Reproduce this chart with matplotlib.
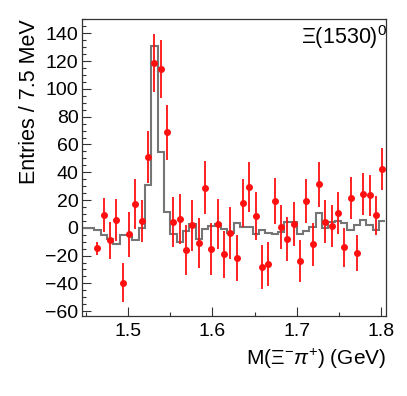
import numpy as np
import matplotlib
matplotlib.use('Agg')
import matplotlib.pyplot as plt
from matplotlib.ticker import MultipleLocator

plt.rcParams['font.family'] = ['Liberation Sans', 'DejaVu Sans']
plt.rcParams['mathtext.fontset'] = 'custom'
plt.rcParams['mathtext.rm'] = 'Liberation Sans'
plt.rcParams['mathtext.it'] = 'Liberation Sans:italic'
plt.rcParams['mathtext.bf'] = 'Liberation Sans:bold'

# binning: 48 bins of 7.5 MeV
BIN_LO = 1.445
BIN_W = 0.0075
N_BINS = 48

# MC shape (grey histogram), one value per bin
mc = [0, 0, -1.7, -5.5, -8.4, -11.5, -5, -5, -9, 0,
      30.7, 130.8, 54.3, 11.5, -4.3, -10.3, -2, 2.4, -8.4, -1,
      1.5, 2.4, -1, -4, 3.2, 0.3, 0.3, -4.8, -1.7, -3.6,
      -4.8, -3, 4.3, 4.3, -4.8, -2, 0.3, 10.5, -0.5, 4.3,
      5, 3.6, -1.7, 1.9, 5.5, 1.9, -1.7, 5]

# data points, first filled bin is bin 2
first_bin = 2
data = [-14.8, 9.1, -8.9, 5.5, -39.6, -4.8, 17.3, 4.8, 51, 118.8,
        114.3, 68.7, 4.3, 6.5, -16.3, 1.7, -11.2, 28.8, -15.1, 2.7,
        -19.2, -3.8, -21.6, 17.8, 29.5, 8.6, -28.3, -26.1, 19.4, 0.5,
        -7.9, 2.9, -23.8, 19.2, -12, 31.2, 4.3, 1.4, 10.8, -14.1,
        21.6, -18, 24.5, 23.3, 8.9, 42.5]
err = [4.5, 12, 13.4, 15, 14, 16, 18, 15, 19, 21,
       21, 20, 18, 18, 18, 18.6, 18, 19, 18.6, 18,
       17, 19, 16.5, 17.5, 17.8, 17.4, 16, 16, 16.8, 16,
       16, 16, 15, 16, 15.6, 16, 15.4, 15, 15, 14,
       15, 13, 15, 14.8, 14.3, 15]

edges = BIN_LO + BIN_W * np.arange(N_BINS + 1)
centers = 0.5 * (edges[:-1] + edges[1:])
x_data = centers[first_bin:first_bin + len(data)]

fig = plt.figure(figsize=(4.07, 3.96), dpi=100)
ax = fig.add_axes([0.2015, 0.202, 0.747, 0.750])

ax.stairs(mc, edges, color='#757575', lw=1.5, baseline=None, zorder=2)
ax.errorbar(x_data, data, yerr=err, fmt='o', color='#ff1010', ms=4.0,
            elinewidth=1.3, capsize=0, zorder=3)

ax.set_xlim(1.4455, 1.8057)
ax.set_ylim(-63.5, 150.3)

ax.xaxis.set_major_locator(MultipleLocator(0.1))
ax.xaxis.set_minor_locator(MultipleLocator(0.05))
ax.yaxis.set_major_locator(MultipleLocator(20))
ax.yaxis.set_minor_locator(MultipleLocator(5))
ax.tick_params(which='both', direction='in', top=False, right=False,
               colors='#333333', labelcolor='black', labelsize=14)
ax.tick_params(which='major', length=6.5, width=0.8)
ax.tick_params(which='minor', length=3.2, width=0.8)
ax.tick_params(axis='x', pad=5)
ax.tick_params(axis='y', pad=2.5)
for s in ax.spines.values():
    s.set_color('#333333')
    s.set_linewidth(0.9)

ax.set_xlabel(r'M($\Xi^{-}\pi^{+}$) (GeV)', fontsize=15, loc='right', labelpad=5)
ax.set_ylabel('Entries / 7.5 MeV', fontsize=15.5, loc='top', labelpad=4)

ax.text(1.005, 0.985, r'$\Xi$(1530)$^{0}$', transform=ax.transAxes,
        ha='right', va='top', fontsize=15.5)

fig.savefig('out.png', dpi=100)
